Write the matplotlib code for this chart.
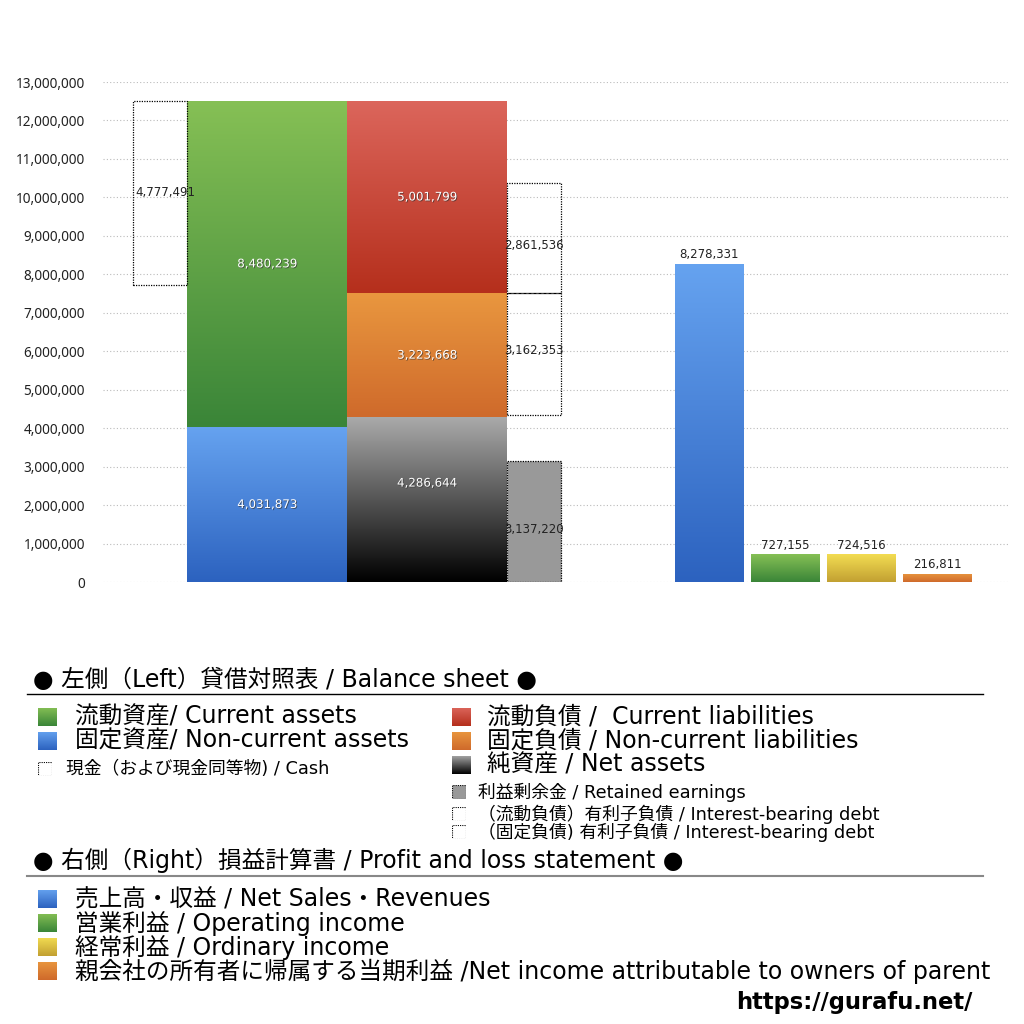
import numpy as np
import matplotlib
matplotlib.use('Agg')
from matplotlib import pyplot as plt
from matplotlib.patches import Rectangle
import matplotlib.patheffects as pe
from matplotlib.colors import LinearSegmentedColormap

plt.rcParams['font.family'] = ['DejaVu Sans', 'Noto Sans CJK JP']

# balance sheet (left)
assets = [4031873, 8480239]            # non-current, current
liabilities = [4286644, 3223668, 5001799]  # net assets, non-current, current
cash = 4777491
retained = 3137220
ibd_noncurrent = 3162353
ibd_current = 2861536

# profit and loss (right)
pl_names = ['売上高・収益', '営業利益', '経常利益', '親会社の所有者に帰属する当期利益']
pl_values = [8278331, 727155, 724516, 216811]

yticks = np.arange(0, 13000001, 1000000)

# colours (top, bottom) of the gradients
green = ('#86c055', '#3a8538')
blue = ('#66a3f0', '#2c62bf')
red = ('#dc665c', '#b52f1c')
orange = ('#e9973f', '#cf6a2b')
black = ('#aaaaaa', '#000000')
yellow = ('#f3dd52', '#c2a032')
pl_colors = [blue, green, yellow, orange]


def gradient_bar(ax, x, w, bottom, height, colors):
    cmap = LinearSegmentedColormap.from_list('g', [colors[1], colors[0]])
    grad = np.linspace(0, 1, 256).reshape(-1, 1)
    rect = Rectangle((x, bottom), w, height, facecolor='none', edgecolor='none')
    ax.add_patch(rect)
    im = ax.imshow(grad, cmap=cmap, origin='lower', aspect='auto',
                   extent=(x, x + w, bottom, bottom + height), zorder=2)
    im.set_clip_path(rect)


def dotted_box(ax, x, w, bottom, height, face='none'):
    ax.add_patch(Rectangle((x, bottom), w, height, facecolor=face, edgecolor='black',
                           linestyle=(0, (1, 1)), linewidth=0.9, zorder=3))


def white_label(ax, x, y, v):
    ax.text(x, y, f'{v:,}', color='white', ha='center', va='center', fontsize=8.5,
            zorder=5,
            path_effects=[pe.withSimplePatchShadow(offset=(0.6, -0.6), shadow_rgbFace='#333333', alpha=0.7)])


def black_label(ax, x, y, v, va='center'):
    ax.text(x, y, f'{v:,}', color='#222222', ha='center', va=va, fontsize=8.5, zorder=5)


fig = plt.figure(figsize=(10.24, 10.24), dpi=100)
ax = fig.add_axes([103 / 1024, 1 - 582 / 1024, 905 / 1024, 500 / 1024])
ax.set_xlim(103, 1008)
ax.set_ylim(0, 13000000)

# layout in pixel-like x units
cash_x, cash_w = 133, 54
asset_x, asset_w = 187, 160
liab_x, liab_w = 347, 160
side_x, side_w = 507, 54
pl_x = [675, 751, 827, 903]
pl_w = 69

# assets
b = 0
for v, c in zip(assets, [blue, green]):
    gradient_bar(ax, asset_x, asset_w, b, v, c)
    white_label(ax, asset_x + asset_w / 2, b + v / 2, v)
    b += v
total_assets = b
dotted_box(ax, cash_x, cash_w, total_assets - cash, cash)
black_label(ax, cash_x + cash_w / 2 + 5, total_assets - cash / 2, cash)

# liabilities and net assets
b = 0
tops = []
for v, c in zip(liabilities, [black, orange, red]):
    gradient_bar(ax, liab_x, liab_w, b, v, c)
    yl = b + v / 2 if c is not black else b + v * 0.6
    white_label(ax, liab_x + liab_w / 2, yl, v)
    b += v
    tops.append(b)

dotted_box(ax, side_x, side_w, 0, retained, face='#999999')
black_label(ax, side_x + side_w / 2, retained / 2 - 200000, retained)
dotted_box(ax, side_x, side_w, tops[1] - ibd_noncurrent, ibd_noncurrent)
black_label(ax, side_x + side_w / 2, tops[1] - ibd_noncurrent / 2 + 100000, ibd_noncurrent)
dotted_box(ax, side_x, side_w, tops[1], ibd_current)
black_label(ax, side_x + side_w / 2, tops[1] + ibd_current / 2 - 200000, ibd_current)

# profit and loss
for x, v, c in zip(pl_x, pl_values, pl_colors):
    gradient_bar(ax, x, pl_w, 0, v, c)
    black_label(ax, x + pl_w / 2, v + 60000, v, va='bottom')

ax.set_yticks(yticks)
ax.set_yticklabels([f'{v:,}' for v in yticks], fontsize=9.8, color='#222222',
                   family=['Noto Sans', 'DejaVu Sans'])
ax.tick_params(axis='y', length=0, pad=13)
ax.set_xticks([])
ax.grid(axis='y', color='#bbbbbb', linestyle=(0, (1, 2)), linewidth=0.8, zorder=0)
ax.set_axisbelow(True)
for s in ax.spines.values():
    s.set_visible(False)


# legend drawn as figure text (pixel coordinates)
def fx(px):
    return px / 1024


def fy(py):
    return 1 - py / 1024


def square(px, py, size, colors=None, dotted=False, face=None):
    axs = fig.add_axes([fx(px), fy(py + size / 2), fx(size), size / 1024])
    axs.set_xlim(0, 1)
    axs.set_ylim(0, 1)
    axs.axis('off')
    if colors is not None:
        cmap = LinearSegmentedColormap.from_list('g', [colors[1], colors[0]])
        axs.imshow(np.linspace(0, 1, 64).reshape(-1, 1), cmap=cmap, origin='lower',
                   aspect='auto', extent=(0, 1, 0, 1))
    if dotted:
        axs.add_patch(Rectangle((0.02, 0.02), 0.96, 0.96, facecolor=face or 'none',
                                edgecolor='black', linestyle=(0, (1, 1)), linewidth=0.8))


big = 17
small = 12.8

fig.text(fx(33), fy(680), '● 左側（Left）貸借対照表 / Balance sheet ●', fontsize=big, va='center')
fig.add_artist(plt.Line2D([fx(27), fx(983)], [fy(694), fy(694)], color='black', linewidth=1))

left_items = [(717, green, '流動資産/ Current assets'),
              (741, blue, '固定資産/ Non-current assets')]
for py, c, t in left_items:
    square(38, py, 19, colors=c)
    fig.text(fx(75), fy(py), t, fontsize=big, va='center')
square(38, 769, 14, dotted=True)
fig.text(fx(66), fy(769), '現金（および現金同等物) / Cash', fontsize=small, va='center')

right_items = [(717, red, '流動負債 /  Current liabilities'),
               (741, orange, '固定負債 / Non-current liabilities'),
               (765, black, '純資産 / Net assets')]
for py, c, t in right_items:
    square(452, py, 19, colors=c)
    fig.text(fx(487), fy(py), t, fontsize=big, va='center')
square(452, 792, 14, dotted=True, face='#999999')
fig.text(fx(478), fy(792), '利益剰余金 / Retained earnings', fontsize=small, va='center')
square(452, 814, 14, dotted=True)
fig.text(fx(478), fy(814), '（流動負債）有利子負債 / Interest-bearing debt', fontsize=small, va='center')
square(452, 832, 14, dotted=True)
fig.text(fx(478), fy(832), '（固定負債) 有利子負債 / Interest-bearing debt', fontsize=small, va='center')

fig.text(fx(33), fy(860), '● 右側（Right）損益計算書 / Profit and loss statement ●', fontsize=big, va='center')
fig.add_artist(plt.Line2D([fx(27), fx(983)], [fy(876), fy(876)], color='#888888', linewidth=1.5))

pl_labels = ['売上高・収益 / Net Sales・Revenues',
             '営業利益 / Operating income',
             '経常利益 / Ordinary income',
             '親会社の所有者に帰属する当期利益 /Net income attributable to owners of parent']
for i, (t, c) in enumerate(zip(pl_labels, pl_colors)):
    py = 899 + i * 24
    square(38, py, 19, colors=c)
    fig.text(fx(75), fy(py), t, fontsize=big, va='center')

fig.text(fx(972), fy(1002), 'https://gurafu.net/', fontsize=16.3, fontweight='bold',
         ha='right', va='center')

fig.savefig('out.png', dpi=100)
